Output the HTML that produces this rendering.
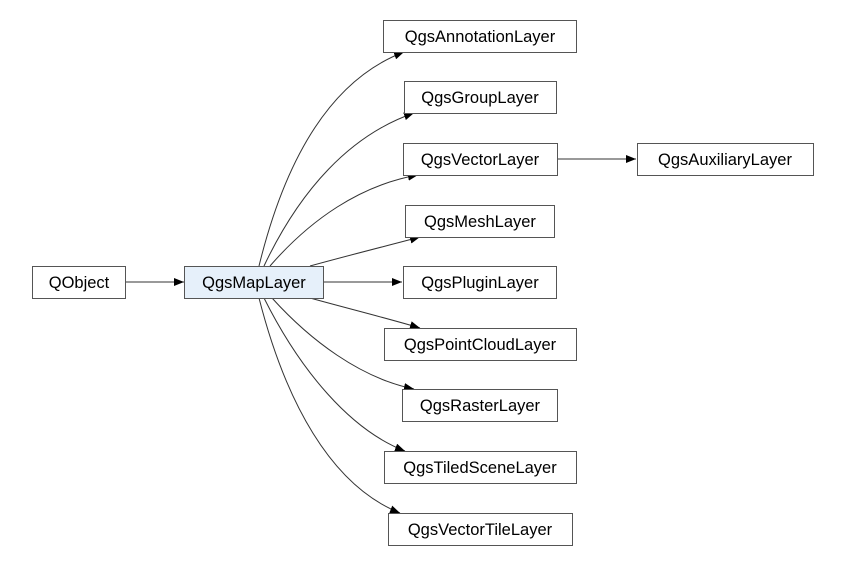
<!DOCTYPE html>
<html><head><meta charset="utf-8"><style>
html,body{margin:0;padding:0;background:#fff;}
svg{display:block;}
text{font-family:"Liberation Sans",sans-serif;font-size:16.5px;fill:#000;}
</style></head><body>
<svg width="851" height="564" viewBox="0 0 851 564">
<defs><marker id="a" markerWidth="10" markerHeight="8" refX="10" refY="4" orient="auto" markerUnits="userSpaceOnUse"><path d="M0,0 L10,4 L0,8 z" fill="#000"/></marker></defs>
<g fill="none" stroke="#333" stroke-width="1" marker-end="url(#a)">
<path d="M125,282 L184,282"/>
<path d="M323,282 L402,282"/>
<path d="M557,159 L636,159"/>
<path d="M259,266 C285,160 330,80 404,52"/>
<path d="M264,266 C300,190 350,135 414,113"/>
<path d="M270,266 C310,220 360,185 418,175"/>
<path d="M310,266 C350,255 390,245 420,237"/>
<path d="M310,298 C350,309 390,319 420,328"/>
<path d="M272,298 C310,340 360,378 414,389"/>
<path d="M264,298 C300,370 350,430 405,451"/>
<path d="M259,298 C285,400 330,485 400,513"/>
</g>
<g stroke="#555" stroke-width="1" fill="#fff">
<rect x="32.5" y="266.5" width="93" height="32"/>
<rect x="184.5" y="266.5" width="139" height="32" fill="#e6f0fa"/>
<rect x="383.5" y="20.5" width="193" height="32"/>
<rect x="404.5" y="81.5" width="152" height="32"/>
<rect x="403.5" y="143.5" width="154" height="32"/>
<rect x="637.5" y="143.5" width="176" height="32"/>
<rect x="405.5" y="205.5" width="149" height="32"/>
<rect x="403.5" y="266.5" width="153" height="32"/>
<rect x="384.5" y="328.5" width="192" height="32"/>
<rect x="402.5" y="389.5" width="155" height="32"/>
<rect x="384.5" y="451.5" width="192" height="32"/>
<rect x="388.5" y="513.5" width="184" height="32"/>
</g>
<g text-anchor="middle">
<text x="79" y="288">QObject</text>
<text x="254" y="288">QgsMapLayer</text>
<text x="480" y="42">QgsAnnotationLayer</text>
<text x="480" y="103">QgsGroupLayer</text>
<text x="480" y="165">QgsVectorLayer</text>
<text x="725" y="165">QgsAuxiliaryLayer</text>
<text x="480" y="227">QgsMeshLayer</text>
<text x="480" y="288">QgsPluginLayer</text>
<text x="480" y="350">QgsPointCloudLayer</text>
<text x="480" y="411">QgsRasterLayer</text>
<text x="480" y="473">QgsTiledSceneLayer</text>
<text x="480" y="535">QgsVectorTileLayer</text>
</g>
</svg>
</body></html>
